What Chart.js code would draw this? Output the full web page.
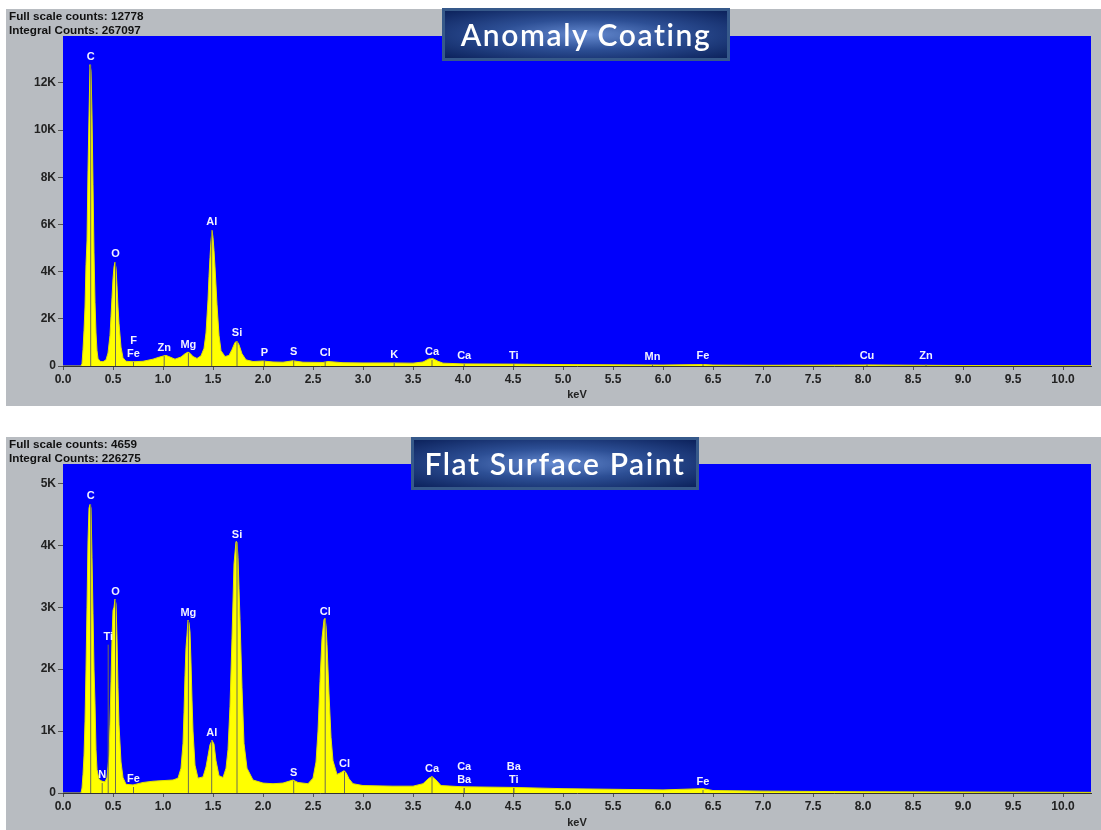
<!DOCTYPE html>
<html>
<head>
<meta charset="utf-8">
<script src="https://cdn.jsdelivr.net/npm/chart.js@4.4.1/dist/chart.umd.min.js"></script>
<style>
  body { margin: 0; background: #fff; width: 1101px; height: 830px; overflow: hidden; position: relative; }
  .panel { position: absolute; background: #b8bcc1; }
  .panel canvas { position: absolute; left: 0; top: 0; }
  .info { position: absolute; left: 3px; top: 0px; font: bold 11.7px "Liberation Sans", Arial, sans-serif; color: #111; line-height: 14px; }
  .title { position: absolute; box-sizing: border-box; width: 288px; height: 53px; border: 3px solid #36598a;
           background: radial-gradient(ellipse at center, #6489cf 0%, #2d4f95 45%, #0c225c 100%);
           color: #fff; font: 600 30px Lato, "Open Sans", sans-serif; letter-spacing: 1.6px;
           font-variant-ligatures: none; text-align: center; line-height: 46px; }
</style>
</head>
<body>
<div class="panel" style="left:6px;top:9px;width:1095px;height:397px">
  <canvas id="chartTop" width="1095" height="397"></canvas>
  <div class="info">Full scale counts: 12778<br>Integral Counts: 267097</div>
</div>
<div class="title" style="left:442px;top:8px">Anomaly Coating</div>

<div class="panel" style="left:6px;top:437px;width:1095px;height:393px">
  <canvas id="chartBottom" width="1095" height="393"></canvas>
  <div class="info">Full scale counts: 4659<br>Integral Counts: 226275</div>
</div>
<div class="title" style="left:411px;top:437px">Flat Surface Paint</div>

<script>
// spectrum 1 - anomaly coating
const topKeV = [
  0, 0.18, 0.19, 0.20, 0.21, 0.22, 0.23, 0.24, 0.25, 0.26,
  0.27, 0.28, 0.29, 0.30, 0.31, 0.32, 0.33, 0.34, 0.35, 0.37,
  0.40, 0.43, 0.45, 0.47, 0.48, 0.49, 0.50, 0.51, 0.52, 0.53,
  0.54, 0.55, 0.56, 0.58, 0.60, 0.63, 0.70, 0.80, 0.90, 0.95,
  1.00, 1.03, 1.07, 1.12, 1.18, 1.22, 1.25, 1.27, 1.30, 1.34,
  1.38, 1.41, 1.43, 1.45, 1.46, 1.47, 1.48, 1.49, 1.50, 1.51,
  1.52, 1.54, 1.56, 1.58, 1.62, 1.66, 1.69, 1.72, 1.74, 1.76,
  1.79, 1.83, 1.90, 2.00, 2.10, 2.20, 2.30, 2.40, 2.60, 2.65,
  2.80, 3.00, 3.30, 3.50, 3.60, 3.66, 3.70, 3.75, 3.80, 4.00,
  4.50, 5.00, 5.50, 6.00, 6.40, 6.50, 7.00, 8.00, 8.05, 8.60,
  9.00, 10.28
];
const topCounts = [
  0, 0, 100, 700, 1500, 2500, 4300, 5300, 8300, 10600,
  12778, 12500, 10600, 7700, 4800, 2700, 1400, 650, 320, 200,
  180, 260, 550, 1300, 2100, 2900, 3700, 4200, 4400, 4150,
  3400, 2500, 1800, 800, 350, 200, 180, 200, 290, 360,
  420, 450, 380, 290, 380, 520, 590, 540, 400, 320,
  430, 750, 1400, 2800, 3800, 4600, 5300, 5750, 5450, 4900,
  4200, 2600, 1300, 650, 400, 450, 700, 1000, 1050, 900,
  520, 260, 190, 210, 170, 160, 220, 160, 150, 190,
  140, 130, 130, 120, 170, 300, 310, 200, 120, 90,
  80, 60, 50, 40, 60, 40, 30, 40, 45, 30,
  20, 10
];
const topYTicks = [0, 2000, 4000, 6000, 8000, 10000, 12000];
const topElements = ['C', 'O', 'Fe', 'F', 'Zn', 'Mg', 'Al', 'Si', 'P', 'S', 'Cl', 'K', 'Ca', 'Ca', 'Ti', 'Mn', 'Fe', 'Cu', 'Zn'];
const topElementKeV = [0.277, 0.525, 0.705, 0.705, 1.012, 1.254, 1.487, 1.740, 2.013, 2.307, 2.622, 3.312, 3.690, 4.012, 4.508, 5.895, 6.400, 8.040, 8.630];
const topElementHeight = [12765, 4410, 169, 169, 422, 549, 5768, 1056, 211, 253, 211, 127, 253, 84, 84, 42, 84, 84, 84];

// spectrum 2 - flat surface paint
const bottomKeV = [
  0, 0.18, 0.19, 0.20, 0.21, 0.22, 0.23, 0.24, 0.25, 0.26,
  0.27, 0.28, 0.29, 0.30, 0.31, 0.32, 0.33, 0.34, 0.36, 0.39,
  0.42, 0.44, 0.46, 0.47, 0.48, 0.49, 0.50, 0.51, 0.52, 0.53,
  0.54, 0.55, 0.56, 0.58, 0.60, 0.63, 0.70, 0.80, 0.90, 1.00,
  1.10, 1.15, 1.18, 1.20, 1.21, 1.22, 1.23, 1.24, 1.25, 1.26,
  1.27, 1.28, 1.29, 1.30, 1.32, 1.35, 1.40, 1.43, 1.45, 1.47,
  1.49, 1.51, 1.53, 1.56, 1.60, 1.63, 1.65, 1.67, 1.69, 1.70,
  1.71, 1.73, 1.74, 1.75, 1.76, 1.77, 1.79, 1.81, 1.84, 1.90,
  2.00, 2.10, 2.20, 2.30, 2.35, 2.45, 2.50, 2.53, 2.55, 2.57,
  2.59, 2.61, 2.62, 2.63, 2.64, 2.66, 2.68, 2.70, 2.74, 2.78,
  2.81, 2.83, 2.86, 2.90, 3.00, 3.30, 3.50, 3.60, 3.66, 3.69,
  3.73, 3.78, 4.00, 4.50, 5.00, 5.50, 6.00, 6.40, 6.50, 7.00,
  8.00, 10.28
];
const bottomCounts = [
  0, 0, 80, 300, 600, 1150, 2000, 3000, 4070, 4600,
  4659, 4600, 3800, 2900, 2000, 1450, 700, 380, 220, 190,
  180, 250, 600, 1100, 1800, 2500, 2950, 3000, 3130, 3050,
  2500, 1700, 1100, 500, 250, 140, 130, 170, 190, 200,
  210, 240, 400, 800, 1300, 1900, 2350, 2550, 2790, 2750,
  2600, 2100, 1500, 1000, 450, 240, 260, 420, 600, 780,
  850, 790, 520, 280, 250, 400, 700, 1400, 2500, 3100,
  3700, 4060, 4050, 3800, 3300, 2800, 1700, 800, 400, 210,
  160, 150, 160, 210, 170, 150, 240, 500, 1000, 1800,
  2500, 2800, 2820, 2700, 2400, 1600, 900, 520, 300, 330,
  360, 330, 230, 150, 120, 110, 110, 150, 240, 265,
  210, 120, 100, 90, 70, 60, 50, 70, 40, 30,
  20, 10
];
const bottomYTicks = [0, 1000, 2000, 3000, 4000, 5000];
const bottomElements = ['C', 'N', 'Ti', 'O', 'Fe', 'Mg', 'Al', 'Si', 'S', 'Cl', 'Cl', 'Ca', 'Ba', 'Ca', 'Ti', 'Ba', 'Fe'];
const bottomElementKeV = [0.277, 0.392, 0.452, 0.525, 0.705, 1.254, 1.487, 1.740, 2.307, 2.622, 2.815, 3.690, 4.012, 4.012, 4.508, 4.508, 6.400];
const bottomElementHeight = [4659, 162, 2395, 3123, 97, 2783, 841, 4045, 194, 2800, 340, 259, 81, 81, 81, 81, 49];

const xTicks = [0, 0.5, 1, 1.5, 2, 2.5, 3, 3.5, 4, 4.5, 5, 5.5, 6, 6.5, 7, 7.5, 8, 8.5, 9, 9.5, 10];

const tickFont = { family: '"Liberation Sans", Arial, sans-serif', size: 12, weight: 'bold' };

// blue plot area
const plotBackground = {
  id: 'plotBackground',
  beforeDraw(chart) {
    const a = chart.chartArea, ctx = chart.ctx;
    ctx.save();
    ctx.fillStyle = '#0000fc';
    ctx.fillRect(a.left, a.top, a.right - a.left, a.bottom - a.top);
    ctx.restore();
  }
};

// element names above the marker lines
const elementLabels = {
  id: 'elementLabels',
  afterDatasetsDraw(chart, args, opts) {
    const ctx = chart.ctx, x = chart.scales.x, y = chart.scales.y;
    const seen = {};
    ctx.save();
    ctx.font = 'bold 11px "Liberation Sans", Arial, sans-serif';
    ctx.fillStyle = '#f2f2ff';
    ctx.textAlign = 'center';
    ctx.textBaseline = 'middle';
    opts.names.forEach((name, i) => {
      const k = opts.keV[i];
      const row = seen[k] || 0;
      seen[k] = row + 1;
      const px = x.getPixelForValue(k);
      const py = y.getPixelForValue(opts.heights[i]) - 8 - row * 13;
      ctx.fillText(name, px, py);
    });
    ctx.restore();
  }
};

let makeChart = (id, keV, counts, names, elKeV, elHeight, yMax, yTicks, xHeight, titlePad) => {
  const spectrum = keV.map((k, i) => ({ x: k, y: counts[i] }));
  const markers = [];
  elKeV.forEach((k, i) => {
    markers.push({ x: k, y: 0 }, { x: k, y: elHeight[i] }, { x: k, y: null });
  });
  const config = {
    type: 'line',
    data: {
      datasets: [{
        data: markers,
        borderColor: '#6d6d55',
        borderWidth: 1,
        pointRadius: 0,
        spanGaps: false,
        fill: false
      }, {
        data: spectrum,
        borderColor: '#e2e200',
        backgroundColor: '#ffff00',
        borderWidth: 1,
        pointRadius: 0,
        tension: 0,
        fill: 'origin'
      }]
    },
    options: {
      responsive: false,
      animation: false,
      layout: { padding: { top: 27, right: 10, left: 0, bottom: 0 } },
      plugins: {
        legend: { display: false },
        tooltip: { enabled: false },
        elementLabels: { names: names, keV: elKeV, heights: elHeight }
      },
      scales: {
        x: {
          type: 'linear',
          min: 0,
          max: 10.28,
          afterFit: (s) => { s.height = xHeight; },
          afterBuildTicks: (s) => { s.ticks = xTicks.map(v => ({ value: v })); },
          ticks: { autoSkip: false, maxRotation: 0, padding: 2,
                   color: '#222', font: tickFont, callback: (v) => v.toFixed(1) },
          grid: { drawOnChartArea: false, drawTicks: true, tickLength: 4, color: '#555' },
          border: { display: true, color: '#333' },
          title: { display: true, text: 'keV', color: '#222', padding: { top: 0, bottom: titlePad },
                   font: { family: '"Liberation Sans", Arial, sans-serif', size: 11, weight: 'bold' } }
        },
        y: {
          min: 0,
          max: yMax,
          afterFit: (s) => { s.width = 57; },
          afterBuildTicks: (s) => { s.ticks = yTicks.map(v => ({ value: v })); },
          ticks: { autoSkip: false, padding: 2, color: '#222', font: tickFont,
                   callback: (v) => v === 0 ? '0' : (v / 1000) + 'K' },
          grid: { drawOnChartArea: false, drawTicks: true, tickLength: 5, color: '#555' },
          border: { display: false }
        }
      }
    },
    plugins: [plotBackground, elementLabels]
  };
  return new Chart(document.getElementById(id), config);
};

makeChart('chartTop', topKeV, topCounts, topElements, topElementKeV, topElementHeight, 13990, topYTicks, 40, 4);
makeChart('chartBottom', bottomKeV, bottomCounts, bottomElements, bottomElementKeV, bottomElementHeight, 5312, bottomYTicks, 37, 0);
</script>
</body>
</html>
